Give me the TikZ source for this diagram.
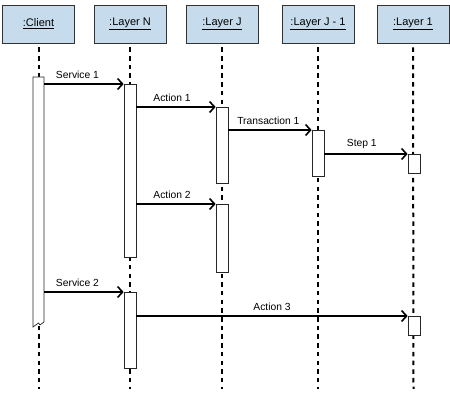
\documentclass[tikz,border=0pt]{standalone}
\usepackage{fontspec}
\setmainfont{Liberation Sans}
\usetikzlibrary{arrows.meta}
\definecolor{headblue}{RGB}{198,220,236}
\tikzset{
  head/.style={draw=black!80, fill=headblue, line width=0.8pt, minimum width=72pt,
    minimum height=38pt, inner sep=0pt, font=\fontsize{11}{13}\selectfont},
  life/.style={line width=2pt, dash pattern=on 4.5pt off 4.2pt, shorten <=4pt},
  bar/.style={draw=black!85, fill=white, line width=0.7pt, minimum width=12pt,
    inner sep=0pt, anchor=north},
  msg/.style={line width=1.6pt, -{Straight Barb[length=5pt,width=11pt,line width=1.6pt]}},
  lbl/.style={font=\fontsize{10.3}{12}\selectfont, inner sep=0pt, above=5pt}
}
\begin{document}
\begin{tikzpicture}[x=1pt, y=-1pt]
                \useasboundingbox (0,0) rectangle (450,403);
                % header boxes
                \node[head] (client) at (38.5,24) {\underline{:Client}};
                \node[head] (layern) at (130,24) {\underline{:Layer N}};
                \node[head] (layerj) at (222,24) {\underline{:Layer J}};
                \node[head] (layerk) at (318,24) {\underline{:Layer J - 1}};
                \node[head] (layero) at (413,24) {\underline{:Layer 1}};
                % lifelines
                \coordinate (cend) at (38.5,389);
                \coordinate (nend) at (130,389);
                \coordinate (jend) at (222,389);
                \coordinate (kend) at (318,389);
                \coordinate (oend) at (413.5,389);
                \draw[life] (client.south) -- (cend);
                \draw[life] (layern.south) -- (nend);
                \draw[life] (layerj.south) -- (jend);
                \draw[life] (layerk.south) -- (kend);
                \draw[life] (layero.south) -- (oend);
                % activation bars
                \coordinate (ctop) at (44,77);
                \filldraw[draw=black!85, fill=white, line width=0.7pt]
                    (33,77) -- (ctop) -- (44,322) -- (40,325) -- (38.5,323) -- (33,327) -- cycle;
                \node[bar, minimum height=173pt] (nbar1) at (130,84) {};
                \node[bar, minimum height=76pt] (jbar1) at (222,107) {};
                \node[bar, minimum height=46pt] (kbar) at (318,130) {};
                \node[bar, minimum height=19pt] (obar1) at (414,154) {};
                \node[bar, minimum height=68pt] (jbar2) at (222,204) {};
                \node[bar, minimum height=76pt] (nbar2) at (130,292) {};
                \node[bar, minimum height=19pt] (obar2) at (414,316) {};
                % messages
                \draw[msg] (ctop |- nbar1.north west) -- node[lbl, pos=0.42] {Service 1} (nbar1.north west);
                \draw[msg] (nbar1.east |- jbar1.north west) -- node[lbl, pos=0.45] {Action 1} (jbar1.north west);
                \draw[msg] (jbar1.east |- kbar.north west) -- node[lbl, pos=0.48] {Transaction 1} (kbar.north west);
                \draw[msg] (kbar.east |- obar1.north west) -- node[lbl, pos=0.45] {Step 1} (obar1.north west);
                \draw[msg] (nbar1.east |- jbar2.north west) -- node[lbl, pos=0.45] {Action 2} (jbar2.north west);
                \draw[msg] (ctop |- nbar2.north west) -- node[lbl, pos=0.42] {Service 2} (nbar2.north west);
                \draw[msg] (nbar2.east |- obar2.north west) -- node[lbl, pos=0.5] {Action 3} (obar2.north west);
            \end{tikzpicture}
\end{document}
